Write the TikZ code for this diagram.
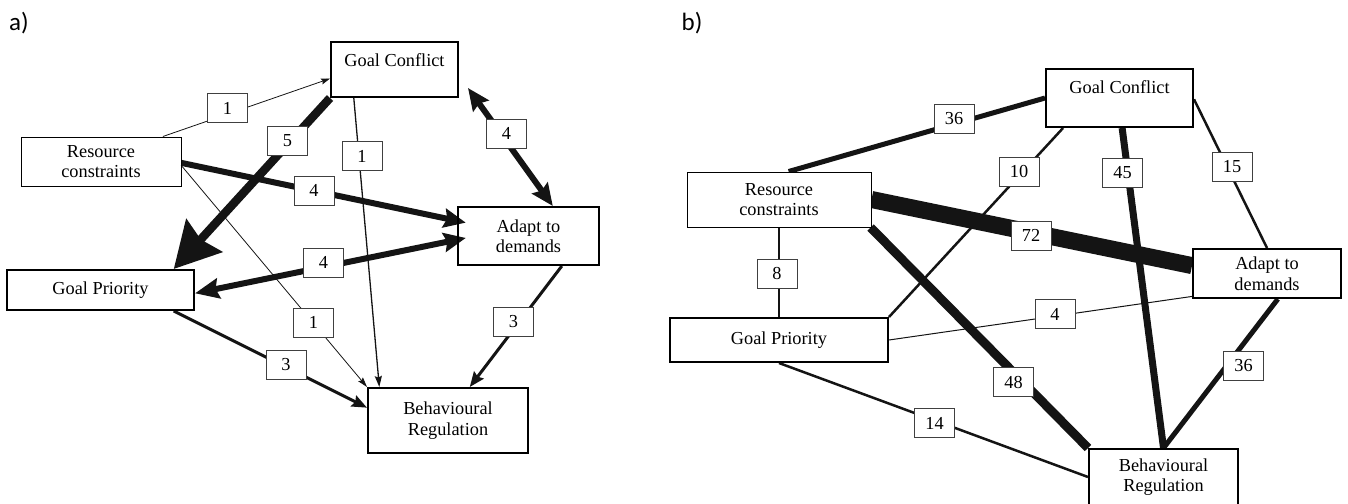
\documentclass[tikz,border=0pt]{standalone}
\usepackage{fontspec}
\setmainfont{Liberation Serif}
\newfontfamily\panelfont{Carlito}
\usetikzlibrary{arrows.meta}
\pgfdeclarelayer{bg}
\pgfsetlayers{bg,main}
\newcommand\fsz{\fontsize{18.3}{20.5}\selectfont}
\begin{document}
\begin{tikzpicture}[x=1pt,y=-1pt,
  box/.style={draw=black, line width=2pt, inner sep=0pt, align=center, font=\fsz},
  thinbox/.style={box, line width=1pt},
  boxb/.style={box, fill=white},
  thinboxb/.style={thinbox, fill=white},
  lbl/.style={draw=black!75, line width=0.9pt, fill=white, minimum width=40pt, minimum height=29pt, inner sep=0pt, font=\fsz},
  con/.style={draw=black!92},
  panel/.style={font=\panelfont\fontsize{25}{30}\selectfont, inner sep=0pt}
]
\useasboundingbox (0,0) rectangle (1348,503);

% ---------- panel a ----------
\node[panel] (pa) at (19,23) {a)};
\node[thinbox, minimum width=160pt, minimum height=49pt] (rcA) at (101,161.5) {Resource\\constraints};
\node[box, minimum width=127pt, minimum height=55pt] (gcA) at (394.5,69.5) {Goal Conflict\\[-8pt]\strut};
\node[box, minimum width=141pt, minimum height=58pt] (adA) at (528.5,236) {Adapt to\\demands};
\node[box, minimum width=187pt, minimum height=40pt] (gpA) at (100.5,290) {Goal Priority};
\node[box, minimum width=160pt, minimum height=65pt] (brA) at (448,420.5) {Behavioural\\Regulation};
\coordinate (gcTip) at (468,88);

\begin{pgfonlayer}{bg}
\draw[con, line width=0.8pt, -{Stealth[length=9pt,width=6pt,inset=1.5pt]}] (rcA.22.5) -- (gcA.188.5);
\draw[con, line width=8.5pt, -{Stealth[length=45pt,width=48pt,inset=5pt]}] (gcA.south west) -- (gpA.16);
\draw[con, line width=6pt, -{Stealth[length=22pt,width=19pt,inset=3pt]}, shorten >=-9pt] (rcA.-1) -- (adA.168.8);
\draw[con, line width=6pt, {Stealth[length=24pt,width=20pt,inset=3pt]}-{Stealth[length=22pt,width=19pt,inset=3pt]}, shorten >=-9pt] (gpA.-2.5) -- (adA.183.2);
\draw[con, line width=0.8pt, -{Stealth[length=10pt,width=6pt,inset=1.5pt]}] (rcA.-3.9) -- (brA.north west);
\draw[con, line width=1.3pt, -{Stealth[length=11pt,width=7pt,inset=1.5pt]}] (gcA.215.5) -- (brA.154.5);
\draw[con, line width=6pt, {Stealth[length=22pt,width=19pt,inset=3pt]}-{Stealth[length=22pt,width=19pt,inset=3pt]}] (gcTip) -- (adA.51);
\draw[con, line width=3pt, -{Stealth[length=15pt,width=12pt,inset=2pt]}] (adA.-42.6) -- (brA.57.1);
\draw[con, line width=3pt, -{Stealth[length=15pt,width=12pt,inset=2pt]}] (gpA.-16) -- (brA.171.1);
\end{pgfonlayer}

\node[lbl] (la1) at (227.5,108) {1};
\node[lbl] (la2) at (287.5,141) {5};
\node[lbl] (la3) at (314,190.5) {4};
\node[lbl] (la4) at (362,156) {1};
\node[lbl] (la5) at (506.5,133.5) {4};
\node[lbl] (la6) at (323.5,262.5) {4};
\node[lbl] (la7) at (313.5,322.5) {1};
\node[lbl] (la8) at (286,365) {3};
\node[lbl] (la9) at (513.5,321.5) {3};

% ---------- panel b ----------
\node[panel] (pb) at (692,23) {b)};
\node[thinboxb, minimum width=184pt, minimum height=55pt] (rcB) at (779,199.5) {Resource\\constraints};
\node[boxb, minimum width=218pt, minimum height=44pt] (gpB) at (779,340) {Goal Priority};
\node[boxb, minimum width=147pt, minimum height=58pt] (gcB) at (1119.5,98) {Goal Conflict\\[-4pt]\strut};
\node[boxb, minimum width=148pt, minimum height=49pt] (adB) at (1267,273.5) {Adapt to\\demands};
\node[boxb, minimum width=149pt, minimum height=56pt] (brB) at (1163.5,477) {Behavioural\\Regulation};

\begin{pgfonlayer}{bg}
\draw[con, line width=5pt] (rcB.71.9) -- (gcB.west);
\draw[con, line width=2.5pt] (gcB.208.5) -- (gpB.north east);
\draw[con, line width=7pt] (gcB.-85.1) -- (brB.north);
\draw[con, line width=2.5pt] (gcB.-1.6) -- (adB.north);
\draw[con, line width=17pt] (rcB.east) -- (adB.174.2);
\draw[con, line width=2.5pt] (rcB.south) -- (gpB.north);
\draw[con, line width=9pt] (rcB.-17.7) -- (brB.north west);
\draw[con, line width=1pt] (gpB.east) -- (adB.197.6);
\draw[con, line width=2.5pt] (gpB.south) -- (brB.west);
\draw[con, line width=5pt] (adB.-67.8) -- (brB.north);
\end{pgfonlayer}

\node[lbl] (lb1) at (954,118.5) {36};
\node[lbl] (lb2) at (1019,171.5) {10};
\node[lbl] (lb3) at (1122.5,173) {45};
\node[lbl] (lb4) at (1232,167) {15};
\node[lbl] (lb5) at (1031,235.5) {72};
\node[lbl] (lb6) at (777,273.5) {8};
\node[lbl] (lb7) at (1013.5,382) {48};
\node[lbl] (lb8) at (1055,314) {4};
\node[lbl] (lb9) at (934.5,423) {14};
\node[lbl] (lb10) at (1243.5,365.5) {36};
\end{tikzpicture}
\end{document}
